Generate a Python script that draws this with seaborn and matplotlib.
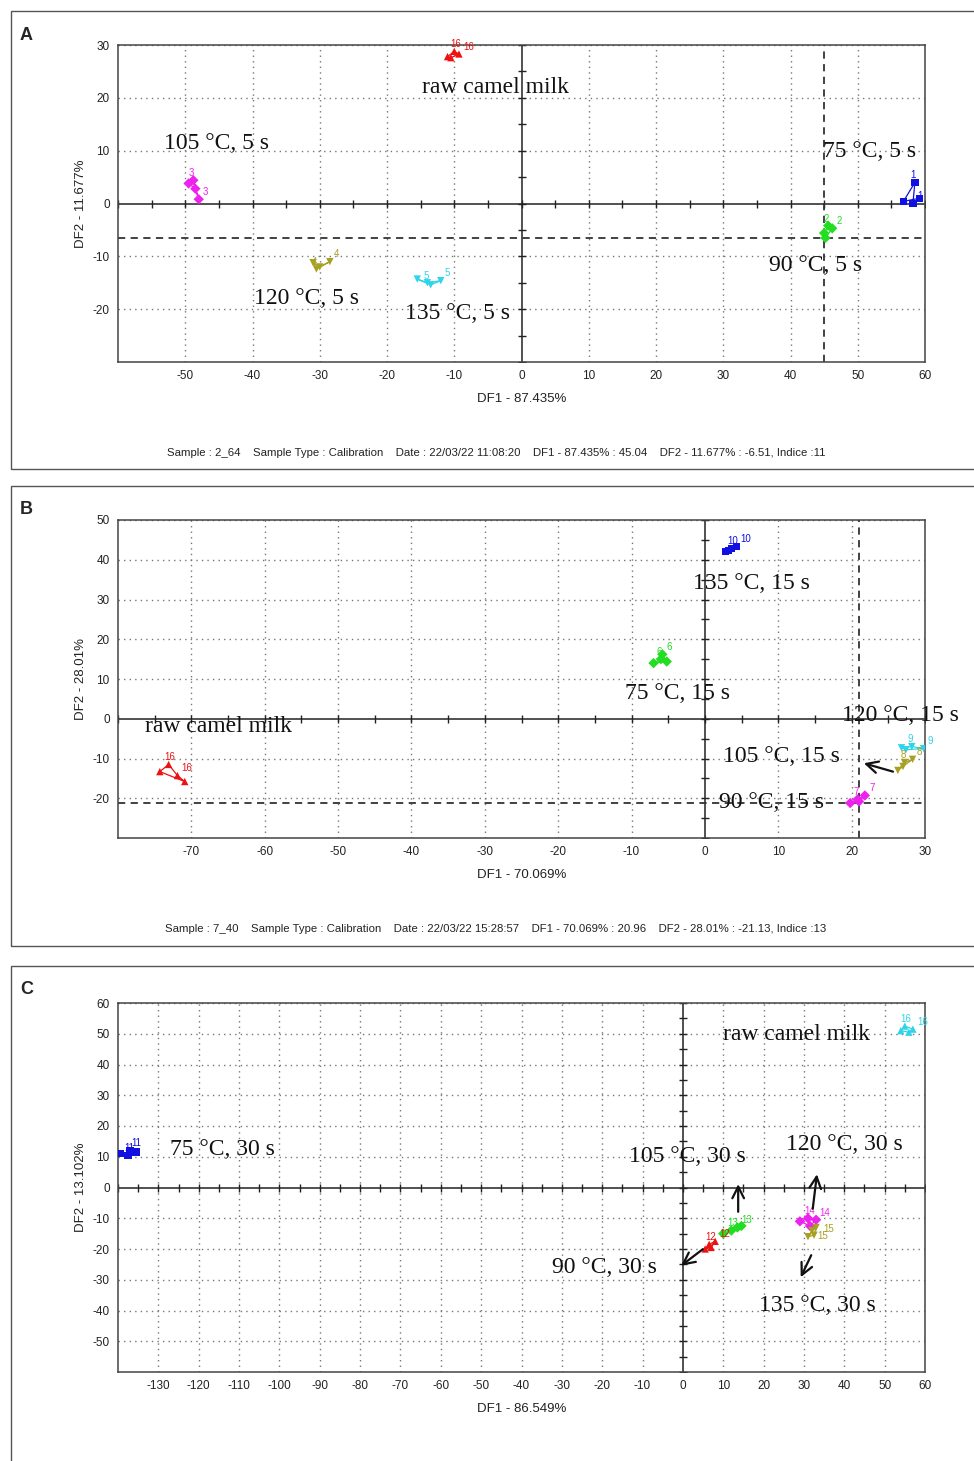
import numpy as np
import pandas as pd
import matplotlib
matplotlib.use("Agg")
import matplotlib.pyplot as plt
from matplotlib.patches import Rectangle
import seaborn as sns

# ---------------- DATA ----------------
# Panel A (5 s)
A_ids = [16, 3, 4, 5, 1, 2]
A_x = [[-11.0, -10.0, -9.3, -10.5], [-49.5, -48.8, -48.0, -48.5], [-31.0, -30.5, -28.5, -30.0],
       [-15.5, -14.0, -12.0, -13.5], [56.8, 58.5, 58.2, 59.2], [45.0, 45.6, 46.2, 45.2]]
A_y = [[27.8, 28.8, 28.3, 27.6], [3.8, 4.4, 0.8, 2.8], [-11.2, -12.4, -11.0, -12.0],
       [-14.3, -15.0, -14.6, -15.4], [0.4, 4.0, 0.0, 1.0], [-5.6, -4.2, -4.7, -6.5]]
A_texts = ["raw camel milk", "105 °C, 5 s", "75 °C, 5 s", "90 °C, 5 s", "120 °C, 5 s", "135 °C, 5 s"]
A_tx = [-3.9, -45.3, 51.7, 43.7, -31.9, -9.5]
A_ty = [22.0, 11.3, 9.8, -11.7, -17.9, -20.8]
A_cross = (45.04, -6.51)
A_footer = ("Sample : 2_64    Sample Type : Calibration    Date : 22/03/22 11:08:20    "
            "DF1 - 87.435% : 45.04    DF2 - 11.677% : -6.51, Indice :11")

# Panel B (15 s)
B_ids = [10, 6, 16, 9, 8, 7]
B_x = [[2.8, 3.6, 4.3, 3.2], [-7.0, -6.0, -5.8, -5.2], [-74.3, -73.1, -71.9, -70.9],
       [26.8, 28.2, 29.8, 27.4], [26.3, 27.2, 28.3, 27.0], [19.8, 20.8, 21.8, 21.0]]
B_y = [[42.0, 42.8, 43.3, 42.3], [14.0, 15.0, 16.2, 14.4], [-13.3, -11.5, -14.3, -15.8],
       [-7.3, -7.0, -7.5, -7.8], [-13.0, -11.0, -10.2, -12.0], [-21.2, -20.3, -19.3, -20.8]]
B_texts = ["135 °C, 15 s", "75 °C, 15 s", "raw camel milk", "120 °C, 15 s", "105 °C, 15 s", "90 °C, 15 s"]
B_tx = [6.3, -3.7, -66.3, 26.6, 10.4, 9.1]
B_ty = [34.0, 6.3, -2.0, 0.7, -9.5, -21.1]
B_arrow_tail = [(26.0, -13.5)]
B_arrow_head = [(21.3, -11.0)]
B_cross = (20.96, -21.13)
B_footer = ("Sample : 7_40    Sample Type : Calibration    Date : 22/03/22 15:28:57    "
            "DF1 - 70.069% : 20.96    DF2 - 28.01% : -21.13, Indice :13")

# Panel C (30 s)
C_ids = [11, 16, 13, 12, 14, 15]
C_x = [[-139.5, -137.5, -137.0, -135.5], [54.0, 55.0, 57.0, 56.0], [10.0, 12.0, 13.5, 14.5],
       [5.5, 6.5, 8.0, 7.0], [29.0, 31.0, 33.0, 31.5], [31.0, 32.0, 33.0, 32.5]]
C_y = [[11.0, 10.5, 12.0, 11.5], [51.0, 52.5, 51.5, 50.5], [-15.0, -14.0, -13.0, -12.5],
       [-20.0, -18.5, -17.5, -19.5], [-11.0, -10.0, -10.5, -12.5], [-16.0, -14.0, -13.0, -15.5]]
C_texts = ["raw camel milk", "75 °C, 30 s", "105 °C, 30 s", "120 °C, 30 s", "90 °C, 30 s", "135 °C, 30 s"]
C_tx = [28.1, -114.0, 1.0, 40.0, -19.4, 33.3]
C_ty = [49.8, 12.4, 10.1, 14.0, -26.0, -38.4]
C_arrow_tail = [(13.7, -8.8), (32.1, -7.8), (5.5, -19.5), (32.1, -21.2)]
C_arrow_head = [(13.7, 2.0), (33.3, 5.2), (-1.0, -26.0), (28.9, -30.0)]

# colours / markers per sample id
ID_COLORS = {1: "#1010e0", 10: "#1010e0", 11: "#1010e0",
             2: "#22dd22", 6: "#22dd22", 13: "#22dd22",
             3: "#ee22ee", 7: "#ee22ee", 14: "#ee22ee",
             4: "#a8a020", 8: "#a8a020", 15: "#a8a020",
             5: "#30d4e8", 9: "#30d4e8",
             12: "#ee1111"}
ID_MARKERS = {1: "s", 10: "s", 11: "s", 2: "D", 6: "D", 13: "D", 3: "D", 7: "D", 14: "D",
              4: "v", 8: "v", 15: "v", 5: "v", 9: "v", 12: "^", 16: "^"}

# ---------------- STYLE ----------------
sns.set_theme(style="white")
plt.rcParams["font.family"] = ["Liberation Sans", "DejaVu Sans"]
plt.rcParams["axes.unicode_minus"] = False
SERIF = ["Liberation Serif", "DejaVu Serif"]
SANS = ["Liberation Sans", "DejaVu Sans"]

W, H = 974, 1461
fig = plt.figure(figsize=(W / 100, H / 100), dpi=100)
fig.patch.set_facecolor("white")


def fx(px):
    return px / W


def fy(py):
    return 1 - py / H


def panel(box_top, box_bottom, ax_top, ax_bottom, letter, ids, xs, ys, colors_for_raw,
          xlim, ylim, xticks, yticks, xlabel, ylabel, texts, tx, ty,
          cross=None, arrows=None, footer=None, footer_y=None,
          xsub=5, ysub=5, label_offsets=None):
    fig.add_artist(Rectangle((fx(11), fy(box_bottom)), fx(975 - 11), (box_bottom - box_top) / H,
                             transform=fig.transFigure, fill=False, ec="#555555", lw=1.0))
    fig.text(fx(20), fy(box_top + 24), letter, fontsize=13, fontweight="bold",
             family=SANS, ha="left", va="center")
    ax = fig.add_axes([fx(118), fy(ax_bottom), fx(925 - 118), (ax_bottom - ax_top) / H])

    rows = []
    for gid, gx, gy in zip(ids, xs, ys):
        for px, py in zip(gx, gy):
            rows.append({"id": gid, "x": px, "y": py})
    df = pd.DataFrame(rows)
    pal = {i: ID_COLORS.get(i, colors_for_raw) for i in ids}
    if 16 in ids:
        pal[16] = colors_for_raw
    mk = {i: ID_MARKERS[i] for i in ids}

    for xv in xticks:
        if xv != 0:
            ax.axvline(xv, color="#777777", lw=1.0, ls=(0, (1, 3)), zorder=0)
    for yv in yticks:
        if yv != 0:
            ax.axhline(yv, color="#777777", lw=1.0, ls=(0, (1, 3)), zorder=0)
    ax.axhline(0, color="#222222", lw=1.1, zorder=1)
    ax.axvline(0, color="#222222", lw=1.1, zorder=1)
    sx = np.arange(xlim[0], xlim[1] + 0.1, xsub)
    sy = np.arange(ylim[0], ylim[1] + 0.1, ysub)
    ax.plot(sx, np.zeros_like(sx), ls="none", marker="|", ms=6, color="#222222", mew=1.0, zorder=1)
    ax.plot(np.zeros_like(sy), sy, ls="none", marker="_", ms=6, color="#222222", mew=1.0, zorder=1)

    if cross is not None:
        ax.axvline(cross[0], color="#333333", lw=1.3, ls=(0, (4, 3)), zorder=1)
        ax.axhline(cross[1], color="#333333", lw=1.3, ls=(0, (4, 3)), zorder=1)

    for gid in ids:
        sub = df[df["id"] == gid]
        sub = pd.concat([sub, sub.iloc[:1]])
        sns.lineplot(data=sub, x="x", y="y", sort=False, estimator=None, color=pal[gid],
                     lw=0.9, ax=ax, legend=False, zorder=2)
    sns.scatterplot(data=df, x="x", y="y", hue="id", style="id", palette=pal, markers=mk,
                    s=28, linewidth=0, ax=ax, legend=False, zorder=3)
    for gid in ids:
        sub = df[df["id"] == gid]
        offs = (label_offsets or {}).get(gid, [(-3, 3), (3, 3)])
        for (_, r), off in zip(sub.iloc[1:3].iterrows(), offs):
            ax.annotate(str(gid), (r["x"], r["y"]), xytext=off, textcoords="offset points",
                        fontsize=7, color=pal[gid], family=SANS, zorder=4)

    for t, x0, y0 in zip(texts, tx, ty):
        ax.text(x0, y0, t, fontsize=17, family=SERIF, ha="center", va="center", color="#111111",
                zorder=5)
    if arrows is not None:
        for tail, head in zip(*arrows):
            ax.annotate("", xy=head, xytext=tail,
                        arrowprops=dict(arrowstyle="->,head_length=0.7,head_width=0.35",
                                        lw=1.6, color="#111111"), zorder=5)

    ax.set_xlim(*xlim)
    ax.set_ylim(*ylim)
    ax.set_xticks(xticks)
    ax.set_yticks(yticks)
    ax.tick_params(length=0, labelsize=8.5, pad=6, colors="#222222")
    ax.set_xlabel(xlabel, fontsize=9.5, labelpad=8, color="#222222")
    ax.set_ylabel(ylabel, fontsize=9.5, labelpad=4, color="#222222")
    for sp in ax.spines.values():
        sp.set_color("#444444")
        sp.set_linewidth(1.1)
    if footer is not None:
        fig.text(fx(496), fy(footer_y), footer, fontsize=8.2, ha="center",
                 va="center", color="#222222")
    return ax


panel(11, 469, 45, 362, "A", A_ids, A_x, A_y, "#ee1111",
      (-60, 60), (-30, 30), list(range(-50, 61, 10)), [-20, -10, 0, 10, 20, 30],
      "DF1 - 87.435%", "DF2 - 11.677%", A_texts, A_tx, A_ty,
      cross=A_cross, footer=A_footer, footer_y=453)

panel(486, 946, 520, 838, "B", B_ids, B_x, B_y, "#ee1111",
      (-80, 30), (-30, 50), list(range(-70, 31, 10)), list(range(-20, 51, 10)),
      "DF1 - 70.069%", "DF2 - 28.01%", B_texts, B_tx, B_ty,
      cross=B_cross, arrows=(B_arrow_tail, B_arrow_head), footer=B_footer, footer_y=929)

panel(966, 1475, 1003, 1372, "C", C_ids, C_x, C_y, "#30d4e8",
      (-140, 60), (-60, 60), list(range(-130, 61, 10)), list(range(-50, 61, 10)),
      "DF1 - 86.549%", "DF2 - 13.102%", C_texts, C_tx, C_ty,
      arrows=(C_arrow_tail, C_arrow_head),
      label_offsets={11: [(-3, 3), (1, 3)], 14: [(-3, 3), (2, 3)], 15: [(4, -6), (5, -3)]})

fig.savefig("out.png", dpi=100, facecolor="white")
